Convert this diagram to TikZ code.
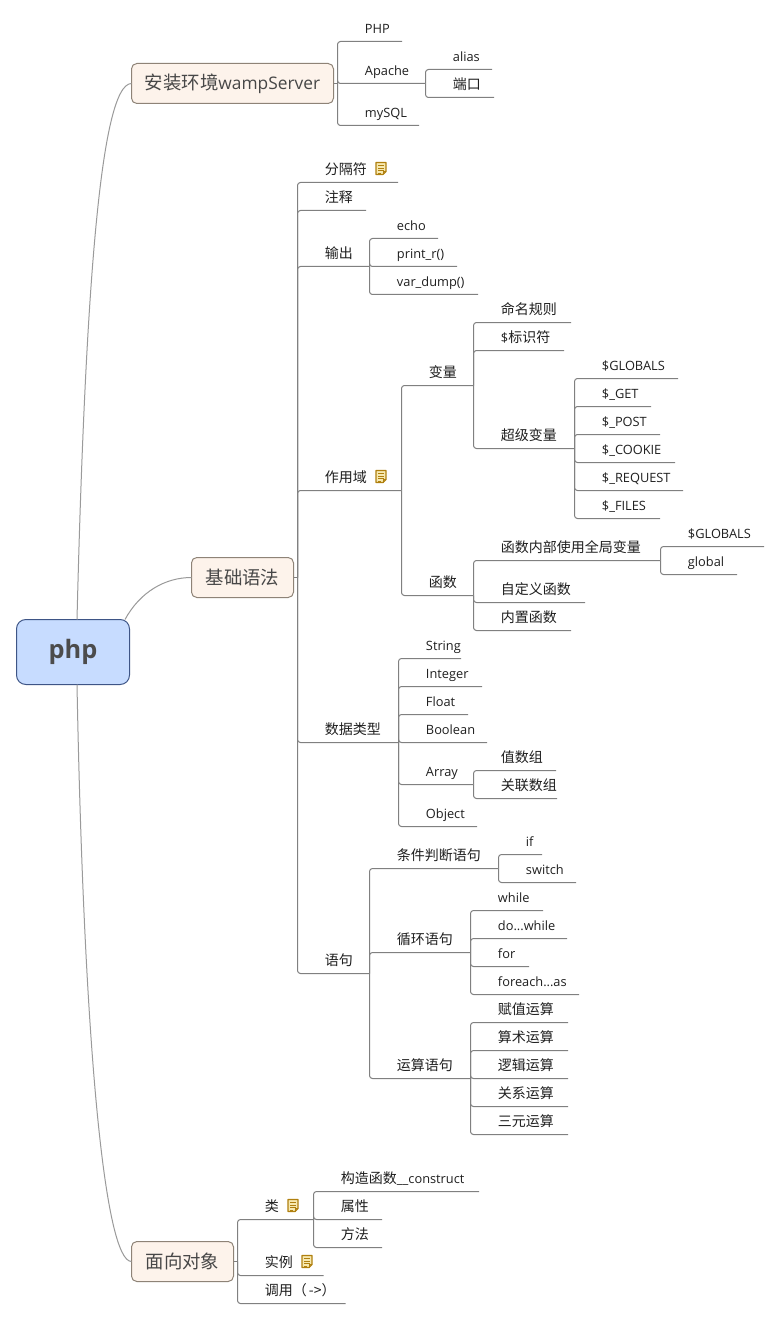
\documentclass[tikz,border=0pt]{standalone}
\usepackage{fontspec}
\setmainfont{Open Sans}
\newfontfamily\cjkf{Noto Sans CJK SC}
\definecolor{linec}{HTML}{808080}
\definecolor{curvec}{HTML}{9A9A9A}
\definecolor{boxfill}{HTML}{FDF3EB}
\definecolor{boxline}{HTML}{8E8377}
\definecolor{rootfill}{HTML}{C7DCFF}
\definecolor{rootline}{HTML}{3E5586}
\definecolor{notefill}{HTML}{F7E9B0}
\definecolor{noteline}{HTML}{B0800F}
\tikzset{
 topic/.style={anchor=south west,inner sep=0pt,outer sep=0pt,font=\fontsize{9.6}{12}\selectfont,text=black!88,text height=8pt,text depth=6pt,align=left},
 branchbox/.style={draw=boxline,fill=boxfill,line width=.75pt,rounded corners=4pt,inner sep=0pt,outer sep=0pt,minimum height=30pt,text=black!72,font=\fontsize{13}{16}\selectfont},
 rootbox/.style={draw=rootline,fill=rootfill,line width=.75pt,rounded corners=7pt,inner sep=0pt,outer sep=0pt,minimum width=84.75pt,minimum height=48.75pt,text=black!70,font=\fontsize{19}{24}\bfseries\selectfont},
 conn/.style={draw=linec,line width=.75pt,rounded corners=2.2pt},
 curve/.style={draw=curvec,line width=.75pt},
}
\newcommand{\zh}[1]{{\cjkf\fontsize{10.5}{12}\selectfont #1}}
\newcommand{\zhbig}[1]{{\cjkf\fontsize{13.8}{16}\selectfont #1}}
\newcommand{\topic}[5]{%
 \pgfmathsetmacro\topicw{(#4-#2)*0.75}%
 \node[topic,text width=\topicw pt] (#1) at (#2,#3) {\hspace*{20.6pt}#5};}
\newcommand{\link}[2]{\draw[conn] (#1) |- (#2.south east);}
\newcommand{\noteicon}[2]{%
 \begin{scope}[shift={(#1,#2)}]
 \draw[noteline,fill=notefill,line width=.9pt,line join=round] (0,0) -- (10,0) -- (10,9) -- (7,12) -- (0,12) -- cycle;
 \draw[noteline,line width=.6pt] (2,3) -- (8,3) (2,5.5) -- (8,5.5) (2,8) -- (8,8) (2,10.5) -- (5,10.5) (10,9) -- (7,9) -- (7,12);
 \end{scope}}
\begin{document}
\begin{tikzpicture}[x=.75pt,y=-.75pt]
\useasboundingbox (0,0) rectangle (780,1319);
\fill[white] (0,0) rectangle (780,1319);

% main boxes
\node[rootbox] (root) at (73,652) {\raisebox{-2.4pt}{php}};
\node[branchbox,minimum width=151.5pt] (b1) at (232.5,83.5) {\raisebox{-.7pt}{\zhbig{安装环境}wampServer}};
\node[branchbox,minimum width=76.5pt] (b2) at (242.5,577.5) {\raisebox{.7pt}{\zhbig{基础语法}}};
\node[branchbox,minimum width=76.5pt] (b3) at (182.5,1261.5) {\zhbig{面向对象}};

\draw[curve] ([xshift=3pt]root.north) .. controls (85,300) and (100,83.5) .. (b1.west);
\draw[curve] ([xshift=39pt]root.north) .. controls (140,592) and (165,577.5) .. (b2.west);
\draw[curve] ([xshift=3pt]root.south) .. controls (84,1050) and (105,1261.5) .. (b3.west);

% branch 1
\coordinate (h1) at (337.5,83.5);
\draw[conn] (b1.east) -- (h1);
\topic{php1}{337.5}{41.5}{402}{PHP}
\topic{apache}{337.5}{83.5}{425.5}{Apache}
\topic{mysql}{337.5}{125.5}{419}{mySQL}
\link{h1}{php1}\link{h1}{apache}\link{h1}{mysql}
\topic{alias}{425.5}{69.5}{492}{alias}
\topic{port}{425.5}{97.5}{494}{\zh{端口}}
\link{apache.south east}{alias}\link{apache.south east}{port}

% branch 2
\coordinate (h2) at (297.5,577.5);
\draw[conn] (b2.east) -- (h2);
\topic{sep}{297.5}{182.5}{398}{\zh{分隔符}}
\topic{cmt}{297.5}{210.5}{366}{\zh{注释}}
\topic{out}{297.5}{266.5}{369.5}{\zh{输出}}
\topic{scope}{297.5}{490.5}{401.5}{\zh{作用域}}
\topic{dtype}{297.5}{742.5}{398.5}{\zh{数据类型}}
\topic{stmt}{297.5}{973.5}{369.5}{\zh{语句}}
\link{h2}{sep}\link{h2}{cmt}\link{h2}{out}\link{h2}{scope}\link{h2}{dtype}\link{h2}{stmt}
\noteicon{376}{162.5}
\noteicon{376}{470.5}

\topic{echo}{369.5}{238.5}{438}{echo}
\topic{printr}{369.5}{266.5}{457}{print\_r()}
\topic{vardump}{369.5}{294.5}{478}{var\_dump()}
\link{out.south east}{echo}\link{out.south east}{printr}\link{out.south east}{vardump}

\topic{var}{401.5}{385.5}{473.5}{\zh{变量}}
\topic{func}{401.5}{595.5}{473.5}{\zh{函数}}
\link{scope.south east}{var}\link{scope.south east}{func}

\topic{naming}{473.5}{322.5}{571}{\zh{命名规则}}
\topic{ident}{473.5}{350.5}{564}{\$\zh{标识符}}
\topic{super}{473.5}{448.5}{574.5}{\zh{超级变量}}
\link{var.south east}{naming}\link{var.south east}{ident}\link{var.south east}{super}

\topic{sglobals}{574.5}{378.5}{678}{\$GLOBALS}
\topic{sget}{574.5}{406.5}{651}{\$\_GET}
\topic{spost}{574.5}{434.5}{660}{\$\_POST}
\topic{scookie}{574.5}{462.5}{675}{\$\_COOKIE}
\topic{srequest}{574.5}{490.5}{683}{\$\_REQUEST}
\topic{sfiles}{574.5}{518.5}{660}{\$\_FILES}
\link{super.south east}{sglobals}\link{super.south east}{sget}\link{super.south east}{spost}\link{super.south east}{scookie}\link{super.south east}{srequest}\link{super.south east}{sfiles}

\topic{fglobal}{473.5}{560.5}{660.5}{\zh{函数内部使用全局变量}}
\topic{fcustom}{473.5}{602.5}{585}{\zh{自定义函数}}
\topic{fbuiltin}{473.5}{630.5}{571}{\zh{内置函数}}
\link{func.south east}{fglobal}\link{func.south east}{fcustom}\link{func.south east}{fbuiltin}

\topic{gglobals}{660.5}{546.5}{764}{\$GLOBALS}
\topic{gglobal}{660.5}{574.5}{737}{global}
\link{fglobal.south east}{gglobals}\link{fglobal.south east}{gglobal}

\topic{tstring}{398.5}{658.5}{461}{String}
\topic{tint}{398.5}{686.5}{482}{Integer}
\topic{tfloat}{398.5}{714.5}{468}{Float}
\topic{tbool}{398.5}{742.5}{487}{Boolean}
\topic{tarray}{398.5}{784.5}{473.5}{Array}
\topic{tobj}{398.5}{826.5}{477}{Object}
\link{dtype.south east}{tstring}\link{dtype.south east}{tint}\link{dtype.south east}{tfloat}\link{dtype.south east}{tbool}\link{dtype.south east}{tarray}\link{dtype.south east}{tobj}

\topic{avalue}{473.5}{770.5}{556}{\zh{值数组}}
\topic{aassoc}{473.5}{798.5}{557}{\zh{关联数组}}
\link{tarray.south east}{avalue}\link{tarray.south east}{aassoc}

\topic{cond}{369.5}{868.5}{498.5}{\zh{条件判断语句}}
\topic{loop}{369.5}{952.5}{470.5}{\zh{循环语句}}
\topic{oper}{369.5}{1078.5}{470.5}{\zh{运算语句}}
\link{stmt.south east}{cond}\link{stmt.south east}{loop}\link{stmt.south east}{oper}

\topic{cif}{498.5}{854.5}{542}{if}
\topic{cswitch}{498.5}{882.5}{576}{switch}
\link{cond.south east}{cif}\link{cond.south east}{cswitch}

\topic{lwhile}{470.5}{910.5}{543}{while}
\topic{ldo}{470.5}{938.5}{567}{do...while}
\topic{lfor}{470.5}{966.5}{529}{for}
\topic{lforeach}{470.5}{994.5}{579}{foreach...as}
\link{loop.south east}{lwhile}\link{loop.south east}{ldo}\link{loop.south east}{lfor}\link{loop.south east}{lforeach}

\topic{oassign}{470.5}{1022.5}{568}{\zh{赋值运算}}
\topic{oarith}{470.5}{1050.5}{568}{\zh{算术运算}}
\topic{ologic}{470.5}{1078.5}{568}{\zh{逻辑运算}}
\topic{orel}{470.5}{1106.5}{568}{\zh{关系运算}}
\topic{oter}{470.5}{1134.5}{568}{\zh{三元运算}}
\link{oper.south east}{oassign}\link{oper.south east}{oarith}\link{oper.south east}{ologic}\link{oper.south east}{orel}\link{oper.south east}{oter}

% branch 3
\coordinate (h3) at (237.5,1261.5);
\draw[conn] (b3.east) -- (h3);
\topic{cls}{237.5}{1219.5}{313.5}{\zh{类}}
\topic{inst}{237.5}{1275.5}{323.5}{\zh{实例}}
\topic{call}{237.5}{1303.5}{345.5}{\zh{调用（\hspace{1.5pt}->）}}
\link{h3}{cls}\link{h3}{inst}\link{h3}{call}
\noteicon{288}{1199.5}
\noteicon{302}{1255.5}

\topic{ctor}{313.5}{1191.5}{479}{\zh{构造函数}\_\_construct}
\topic{prop}{313.5}{1219.5}{382}{\zh{属性}}
\topic{meth}{313.5}{1247.5}{382}{\zh{方法}}
\link{cls.south east}{ctor}\link{cls.south east}{prop}\link{cls.south east}{meth}
\end{tikzpicture}
\end{document}
